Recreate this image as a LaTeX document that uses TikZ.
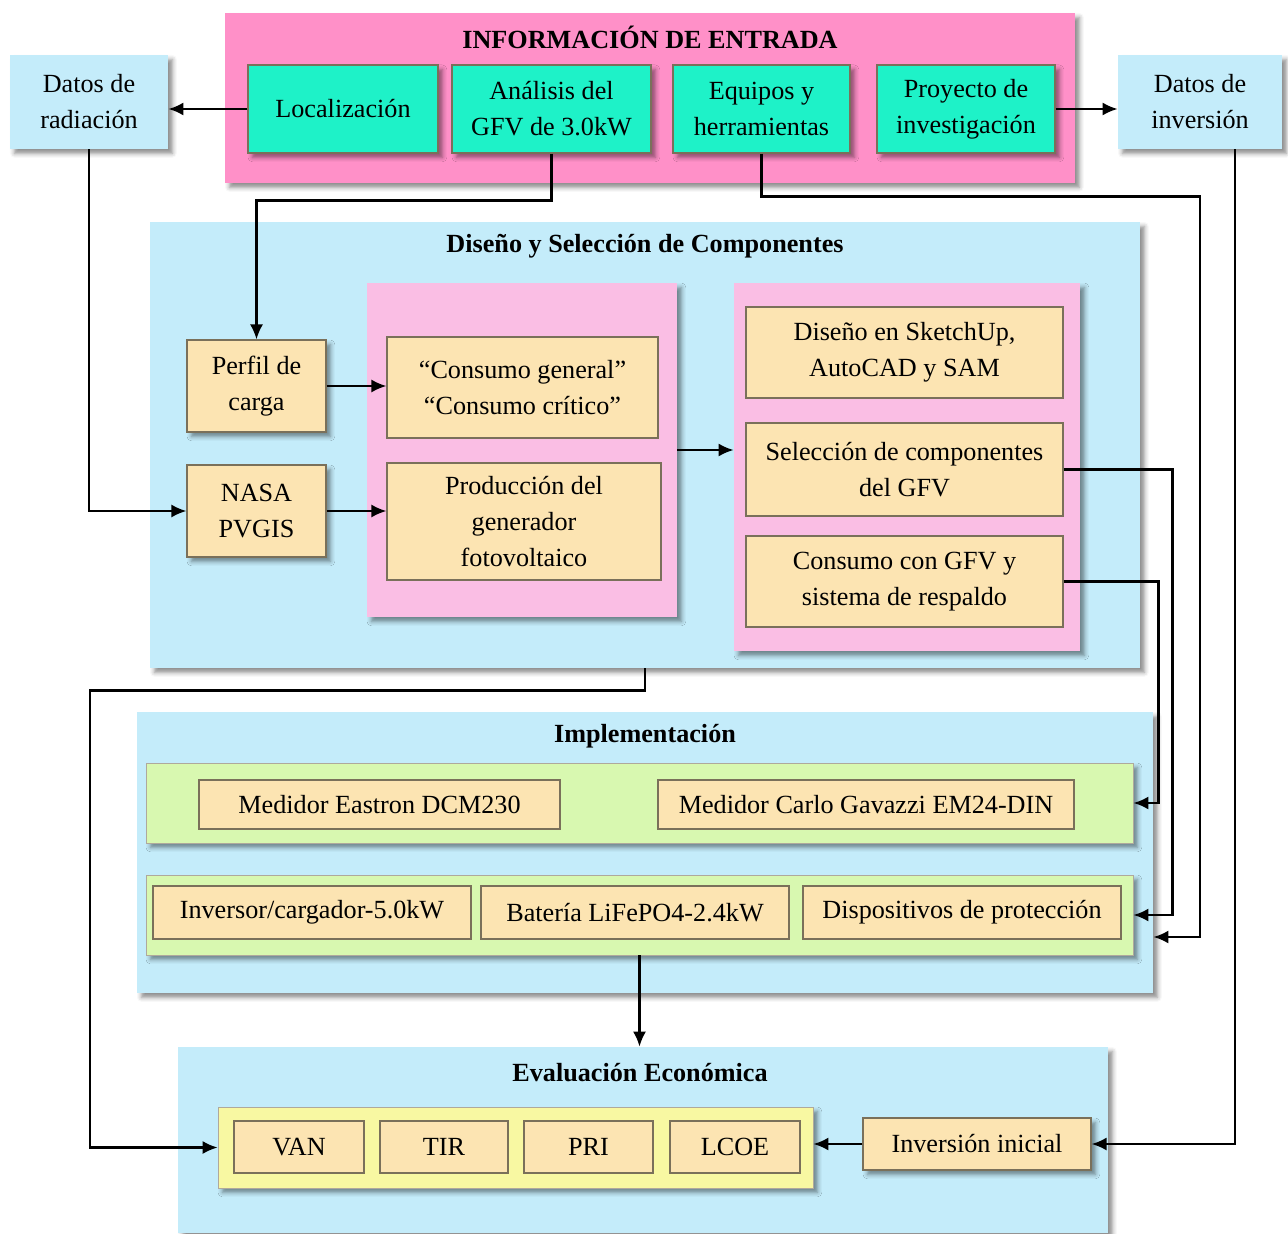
\documentclass[tikz,border=0pt]{standalone}
\usepackage{fontspec}
\setmainfont{Liberation Serif}
\usetikzlibrary{positioning, arrows.meta, shadows.blur}

\definecolor{rosaFuerte}{HTML}{FF90C8}
\definecolor{rosaClaro}{HTML}{FABEE4}
\definecolor{turquesa}{HTML}{1EF2C8}
\definecolor{celeste}{HTML}{C4ECFA}
\definecolor{crema}{HTML}{FCE4B2}
\definecolor{verdeClaro}{HTML}{D8F8B0}
\definecolor{amarillo}{HTML}{F8F8A2}
\definecolor{borde}{HTML}{7A705A}

\begin{document}
\begin{tikzpicture}[
    every node/.style={align=center, font=\fontsize{14.9}{20.5}\selectfont, inner sep=2pt},
    sombra/.style={blur shadow={shadow xshift=2.5pt, shadow yshift=-2.5pt, shadow blur radius=2.5pt, shadow opacity=45}},
    grupo/.style={rectangle, sombra},
    entrada/.style={rectangle, draw=borde, fill=turquesa, line width=0.6pt, sombra},
    dato/.style={rectangle, fill=celeste, sombra},
    tarea/.style={rectangle, draw=borde, fill=crema, line width=0.6pt},
    titulo/.style={font=\fontsize{14.9}{20.5}\selectfont\bfseries},
    arrow/.style={-{Latex[length=3mm, width=2.6mm]}, line width=1.3pt}
]
\useasboundingbox (0,0) rectangle (25.76,-24.66);

% --- Informacion de entrada
\node[grupo, fill=rosaFuerte, minimum width=17cm, minimum height=3.4cm] (info) at (13.0,-1.96) {};
\node[titulo] (tinfo) at (13.0,-0.74) {INFORMACIÓN DE ENTRADA};
\node[entrada, minimum width=3.8cm, minimum height=1.76cm] (loc) at (6.86,-2.18) {Localización};
\node[entrada, minimum width=3.98cm, minimum height=1.76cm] (anal) at (11.03,-2.18) {Análisis del\\GFV de 3.0kW};
\node[entrada, minimum width=3.54cm, minimum height=1.76cm] (equi) at (15.23,-2.18) {Equipos y\\herramientas};
\node[entrada, minimum width=3.56cm, minimum height=1.76cm] (proy) at (19.32,-2.18) {Proyecto de\\investigación};

\node[dato, minimum width=3.16cm, minimum height=1.88cm] (rad) at (1.78,-2.04) {Datos de\\radiación};
\node[dato, minimum width=3.28cm, minimum height=1.88cm] (inv) at (24.0,-2.04) {Datos de\\inversión};

% --- Diseno y seleccion
\node[grupo, fill=celeste, minimum width=19.8cm, minimum height=8.92cm] (diseno) at (12.9,-8.9) {};
\node[titulo] (tdiseno) at (12.9,-4.92) {Diseño y Selección de Componentes};
\node[tarea, sombra, minimum width=2.78cm, minimum height=1.84cm] (perfil) at (5.13,-7.72) {Perfil de\\carga};
\node[tarea, sombra, minimum width=2.78cm, minimum height=1.84cm] (nasa) at (5.13,-10.22) {NASA\\PVGIS};

\node[grupo, fill=rosaClaro, minimum width=6.2cm, minimum height=6.68cm] (rosa1) at (10.44,-9.0) {};
\node[tarea, minimum width=5.42cm, minimum height=2.02cm] (consumo) at (10.45,-7.75) {“Consumo general”\\“Consumo crítico”};
\node[tarea, minimum width=5.48cm, minimum height=2.34cm] (prod) at (10.48,-10.43) {Producción del\\generador\\fotovoltaico};

\node[grupo, fill=rosaClaro, minimum width=6.92cm, minimum height=7.36cm] (rosa2) at (18.14,-9.34) {};
\node[tarea, minimum width=6.34cm, minimum height=1.82cm] (sketch) at (18.09,-7.05) {Diseño en SketchUp,\\AutoCAD y SAM};
\node[tarea, minimum width=6.34cm, minimum height=1.86cm] (sel) at (18.09,-9.39) {Selección de componentes\\del GFV};
\node[tarea, minimum width=6.34cm, minimum height=1.82cm] (cgfv) at (18.09,-11.63) {Consumo con GFV y\\sistema de respaldo};

% --- Implementacion
\node[grupo, fill=celeste, minimum width=20.32cm, minimum height=5.62cm] (impl) at (12.9,-17.05) {};
\node[titulo] (timpl) at (12.9,-14.72) {Implementación};
\node[grupo, draw=borde!60, fill=verdeClaro, minimum width=19.74cm, minimum height=1.6cm] (fila1) at (12.79,-16.06) {};
\node[tarea, minimum width=7.22cm, minimum height=0.98cm] (eastron) at (7.59,-16.09) {Medidor Eastron DCM230};
\node[tarea, minimum width=8.32cm, minimum height=0.98cm] (carlo) at (17.32,-16.09) {Medidor Carlo Gavazzi EM24-DIN};
\node[grupo, draw=borde!60, fill=verdeClaro, minimum width=19.74cm, minimum height=1.6cm] (fila2) at (12.79,-18.3) {};
\node[tarea, minimum width=6.36cm, minimum height=1.06cm] (inversor) at (6.24,-18.25) {Inversor/cargador-5.0kW};
\node[tarea, minimum width=6.16cm, minimum height=1.06cm] (bateria) at (12.7,-18.25) {Batería LiFePO4-2.4kW};
\node[tarea, minimum width=6.36cm, minimum height=1.06cm] (prot) at (19.24,-18.25) {Dispositivos de protección};

% --- Evaluacion economica
\node[grupo, fill=celeste, minimum width=18.6cm, minimum height=3.72cm] (eval) at (12.86,-22.8) {};
\node[titulo] (teval) at (12.8,-21.46) {Evaluación Económica};
\node[grupo, draw=borde!60, fill=amarillo, minimum width=11.9cm, minimum height=1.62cm] (indic) at (10.31,-22.95) {};
\node[tarea, minimum width=2.6cm, minimum height=1.04cm] (van) at (5.98,-22.94) {VAN};
\node[tarea, minimum width=2.56cm, minimum height=1.04cm] (tir) at (8.88,-22.94) {TIR};
\node[tarea, minimum width=2.58cm, minimum height=1.04cm] (pri) at (11.77,-22.94) {PRI};
\node[tarea, minimum width=2.6cm, minimum height=1.04cm] (lcoe) at (14.7,-22.94) {LCOE};
\node[tarea, sombra, minimum width=4.56cm, minimum height=1.04cm] (inicial) at (19.54,-22.88) {Inversión inicial};

% --- Flechas
\draw[arrow] (loc.west) -- (loc.west -| rad.east);
\draw[arrow] (proy.east) -- (proy.east -| inv.west);
\draw[arrow] (anal.south) -- ++(0,-0.94) -| (perfil.north);
\draw[arrow] (rad.south) |- (nasa.west);
\draw[arrow] (equi.south) -- ++(0,-0.86) -- ++(8.77,0) |- ([yshift=-1.69cm]impl.east);
\draw[arrow] ([xshift=0.7cm]inv.south) |- (inicial.east);

\draw[arrow] (perfil.east) -- (perfil.east -| consumo.west);
\draw[arrow] (nasa.east) -- (nasa.east -| prod.west);
\draw[arrow] (rosa1.east) -- (rosa1.east -| rosa2.west);

% salidas hacia implementacion
\draw[arrow] (sel.east) -- ++(2.18,0) |- (fila2.east);
\draw[arrow] (cgfv.east) -- ++(1.9,0) |- (fila1.east);

% hacia evaluacion
\draw[arrow] (diseno.south) -- ++(0,-0.44) -- ++(-11.1,0) |- (indic.west);
\draw[arrow] (fila2.south) -- (fila2.south |- eval.north);
\draw[arrow] (inicial.west) -- (inicial.west -| indic.east);

\end{tikzpicture}
\end{document}
